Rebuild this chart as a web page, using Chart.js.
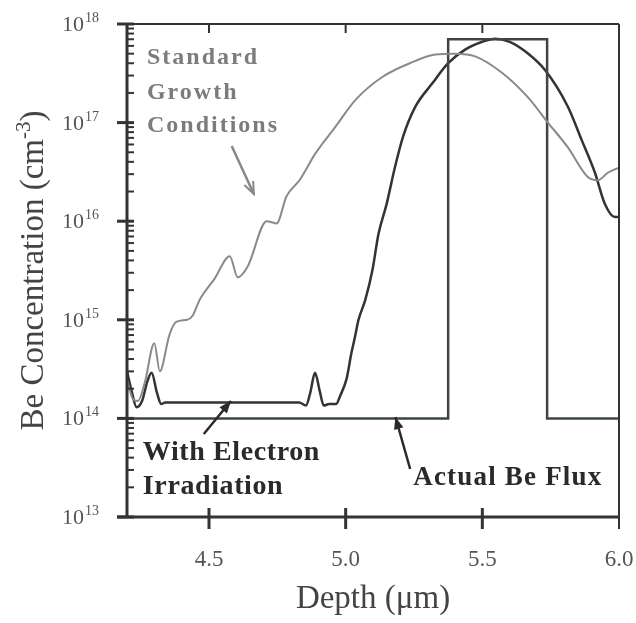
<!DOCTYPE html>
<html>
<head>
<meta charset="utf-8">
<script src="https://cdn.jsdelivr.net/npm/chart.js@4.4.1/dist/chart.umd.min.js"></script>
<style>
  html, body { margin: 0; padding: 0; background: #fff; }
  #wrap { width: 636px; height: 623px; }
</style>
</head>
<body>
<div id="wrap"><canvas id="chart" width="636" height="623"></canvas></div>
<script>
// Be depth profiles, depth in um, concentration in cm^-3
const stdDepth = [4.20, 4.22, 4.24, 4.265, 4.30, 4.32, 4.355, 4.38, 4.42, 4.44, 4.466, 4.52, 4.576, 4.605, 4.642,
  4.711, 4.747, 4.784, 4.831, 4.89, 4.963, 5.036, 5.134, 5.244, 5.328, 5.40, 5.474, 5.572, 5.667, 5.74,
  5.813, 5.886, 5.923, 5.959, 6.0];
const stdConc = [2.5e14, 1.6e14, 1.5e14, 2.3e14, 5.8e14, 3.0e14, 7.0e14, 9.5e14, 1.0e15, 1.1e15, 1.6e15, 2.6e15, 4.4e15, 2.7e15, 3.5e15,
  1.0e16, 9.5e15, 1.8e16, 2.6e16, 4.9e16, 9.1e16, 1.7e17, 2.9e17, 4.1e17, 4.9e17, 5.0e17, 4.7e17, 3.2e17, 1.8e17, 1.0e17,
  5.6e16, 2.8e16, 2.6e16, 3.1e16, 3.5e16];

const irrDepth = [4.20, 4.215, 4.235, 4.255, 4.275, 4.29, 4.31, 4.325, 4.34, 4.50, 4.70, 4.83, 4.855, 4.87, 4.888,
  4.905, 4.92, 4.94, 4.965, 4.98, 5.003, 5.021, 5.032, 5.047, 5.072, 5.098, 5.12, 5.15, 5.18, 5.21,
  5.255, 5.317, 5.375, 5.437, 5.50, 5.547, 5.60, 5.66, 5.73, 5.813, 5.864, 5.912, 5.948, 5.985, 6.0];
const irrConc = [3.0e14, 2.0e14, 1.3e14, 1.5e14, 2.4e14, 2.9e14, 1.8e14, 1.4e14, 1.45e14, 1.45e14, 1.45e14, 1.45e14, 1.35e14, 1.8e14, 2.9e14,
  1.9e14, 1.35e14, 1.4e14, 1.4e14, 1.7e14, 2.5e14, 4.6e14, 6.3e14, 1.0e15, 1.6e15, 3.2e15, 7.4e15, 1.5e16, 3.5e16, 7.2e16,
  1.45e17, 2.5e17, 4.0e17, 5.5e17, 6.6e17, 7.1e17, 6.6e17, 5.2e17, 3.4e17, 1.45e17, 6.6e16, 3.1e16, 1.5e16, 1.1e16, 1.1e16];

const fluxDepth = [4.2, 5.375, 5.375, 5.737, 5.737, 6.0];
const fluxConc = [1e14, 1e14, 7e17, 7e17, 1e14, 1e14];

const depthTicks = [4.5, 5.0, 5.5, 6.0];
const decades = [13, 14, 15, 16, 17, 18];

const serif = '"Liberation Serif", "Times New Roman", serif';

function pts(xs, ys) {
    return xs.map((x, i) => ({ x: x, y: ys[i] }));
}

const framePlugin = {
    id: 'frame',
    afterDraw(chart) {
        const ctx = chart.ctx;
        const xs = chart.scales.x;
        const ys = chart.scales.y;
        const a = chart.chartArea;
        const X = v => xs.getPixelForValue(v);
        const Y = lv => ys.getPixelForValue(Math.pow(10, lv));

        ctx.save();
        ctx.strokeStyle = '#333';
        ctx.lineCap = 'butt';

        // box
        ctx.lineWidth = 2;
        ctx.beginPath();
        ctx.moveTo(a.left, a.top); ctx.lineTo(a.right, a.top);
        ctx.moveTo(a.right, a.top); ctx.lineTo(a.right, a.bottom + 12);
        ctx.stroke();
        ctx.lineWidth = 3;
        ctx.beginPath();
        ctx.moveTo(a.left, a.top - 1); ctx.lineTo(a.left, a.bottom);
        ctx.moveTo(a.left - 10, a.bottom); ctx.lineTo(a.right, a.bottom);
        ctx.stroke();

        // y ticks: majors cross the axis, minors inside
        decades.forEach(d => {
            const y = Y(d);
            ctx.lineWidth = 3;
            ctx.beginPath();
            ctx.moveTo(a.left - 10, y); ctx.lineTo(a.left + 7, y);
            ctx.stroke();
            if (d < 18) {
                ctx.lineWidth = 2;
                for (let k = 2; k <= 9; k++) {
                    const ym = ys.getPixelForValue(k * Math.pow(10, d));
                    ctx.beginPath();
                    ctx.moveTo(a.left, ym); ctx.lineTo(a.left + 7, ym);
                    ctx.stroke();
                }
            }
        });

        // x ticks
        depthTicks.forEach(v => {
            if (v >= 6.0) return;
            const x = X(v);
            ctx.lineWidth = 3;
            ctx.beginPath();
            ctx.moveTo(x, a.bottom - 9); ctx.lineTo(x, a.bottom + 12);
            ctx.stroke();
            ctx.lineWidth = 2;
            ctx.beginPath();
            ctx.moveTo(x, a.top); ctx.lineTo(x, a.top + 9);
            ctx.stroke();
        });

        // x tick labels
        ctx.fillStyle = '#555';
        ctx.textBaseline = 'alphabetic';
        ctx.textAlign = 'center';
        ctx.font = '23px ' + serif;
        depthTicks.forEach(v => {
            ctx.fillText(v.toFixed(1), X(v), a.bottom + 49);
        });

        // y tick labels 10^n
        decades.forEach(d => {
            const y = Y(d);
            ctx.font = '22px ' + serif;
            ctx.textAlign = 'right';
            ctx.fillText('10', 84, y + 7);
            ctx.font = '14px ' + serif;
            ctx.textAlign = 'left';
            ctx.fillText(String(d), 85, y - 2);
        });

        // y axis title with superscript
        ctx.fillStyle = '#444';
        const cy = (a.top + a.bottom) / 2;
        ctx.translate(43, cy);
        ctx.rotate(-Math.PI / 2);
        const mainTxt = 'Be Concentration (cm';
        const supTxt = '-3';
        ctx.font = '33px ' + serif;
        const w1 = ctx.measureText(mainTxt).width;
        const w3 = ctx.measureText(')').width;
        ctx.font = '21px ' + serif;
        const w2 = ctx.measureText(supTxt).width;
        let u = -(w1 + w2 + w3) / 2;
        ctx.textAlign = 'left';
        ctx.font = '33px ' + serif;
        ctx.fillText(mainTxt, u, 0);
        ctx.font = '21px ' + serif;
        ctx.fillText(supTxt, u + w1, -13);
        ctx.font = '33px ' + serif;
        ctx.fillText(')', u + w1 + w2, 0);
        ctx.restore();

        // annotations
        ctx.save();
        ctx.textAlign = 'left';
        ctx.textBaseline = 'alphabetic';
        ctx.fillStyle = '#7c7c7c';
        ctx.font = 'bold 24px ' + serif;
        ctx.letterSpacing = '2px';
        ctx.fillText('Standard', X(4.273), Y(17.594));
        ctx.fillText('Growth', X(4.273), Y(17.239));
        ctx.fillText('Conditions', X(4.273), Y(16.905));

        ctx.fillStyle = '#2a2a2a';
        ctx.font = 'bold 28px ' + serif;
        ctx.letterSpacing = '0.6px';
        ctx.fillText('With Electron', X(4.258), Y(13.578));
        ctx.fillText('Irradiation', X(4.258), Y(13.233));
        ctx.font = 'bold 27px ' + serif;
        ctx.letterSpacing = '1.2px';
        ctx.fillText('Actual Be Flux', X(5.247), Y(13.325));
        ctx.letterSpacing = '0px';

        arrow(ctx, X(4.583), Y(16.763), X(4.664), Y(16.276), '#888', false);
        arrow(ctx, X(4.481), Y(13.842), X(4.580), Y(14.176), '#2a2a2a', true);
        arrow(ctx, X(5.236), Y(13.487), X(5.182), Y(14.014), '#2a2a2a', true);
        ctx.restore();
    }
};

function arrow(ctx, x1, y1, x2, y2, color, filled) {
    const ang = Math.atan2(y2 - y1, x2 - x1);
    const len = 13;
    const spread = 0.38;
    ctx.strokeStyle = color;
    ctx.fillStyle = color;
    ctx.lineWidth = 2.5;
    ctx.beginPath();
    ctx.moveTo(x1, y1);
    ctx.lineTo(x2, y2);
    ctx.stroke();
    const ax = x2 - len * Math.cos(ang - spread), ay = y2 - len * Math.sin(ang - spread);
    const bx = x2 - len * Math.cos(ang + spread), by = y2 - len * Math.sin(ang + spread);
    ctx.beginPath();
    ctx.moveTo(ax, ay);
    ctx.lineTo(x2, y2);
    ctx.lineTo(bx, by);
    if (filled) {
        ctx.closePath();
        ctx.fill();
    } else {
        ctx.lineWidth = 2;
        ctx.stroke();
    }
}

new Chart(document.getElementById('chart'), {
    type: 'scatter',
    data: {
        datasets: [
            {
                label: 'Standard Growth Conditions',
                data: pts(stdDepth, stdConc),
                showLine: true,
                borderColor: '#8a8a8a',
                borderWidth: 2,
                pointRadius: 0,
                cubicInterpolationMode: 'monotone'
            },
            {
                label: 'Actual Be Flux',
                data: pts(fluxDepth, fluxConc),
                showLine: true,
                borderColor: '#3d4545',
                borderWidth: 2.5,
                pointRadius: 0,
                tension: 0
            },
            {
                label: 'With Electron Irradiation',
                data: pts(irrDepth, irrConc),
                showLine: true,
                borderColor: '#333',
                borderWidth: 2.5,
                pointRadius: 0,
                cubicInterpolationMode: 'monotone'
            }
        ]
    },
    options: {
        responsive: false,
        animation: false,
        layout: { padding: { left: 0, right: 17, top: 24, bottom: 0 } },
        plugins: {
            legend: { display: false },
            tooltip: { enabled: false }
        },
        scales: {
            x: {
                type: 'linear',
                min: 4.2,
                max: 6.0,
                afterBuildTicks: s => { s.ticks = depthTicks.map(v => ({ value: v })); },
                afterFit: s => { s.height = 106; },
                grid: { display: false, drawTicks: false },
                border: { display: false },
                ticks: { display: false },
                title: {
                    display: true,
                    text: 'Depth (\u03bcm)',
                    font: { family: serif, size: 33 },
                    color: '#444',
                    padding: { top: 0, bottom: 4 }
                }
            },
            y: {
                type: 'logarithmic',
                min: 1e13,
                max: 1e18,
                afterFit: s => { s.width = 127; },
                grid: { display: false },
                border: { display: false },
                ticks: { display: false }
            }
        }
    },
    plugins: [framePlugin]
});
</script>
</body>
</html>
